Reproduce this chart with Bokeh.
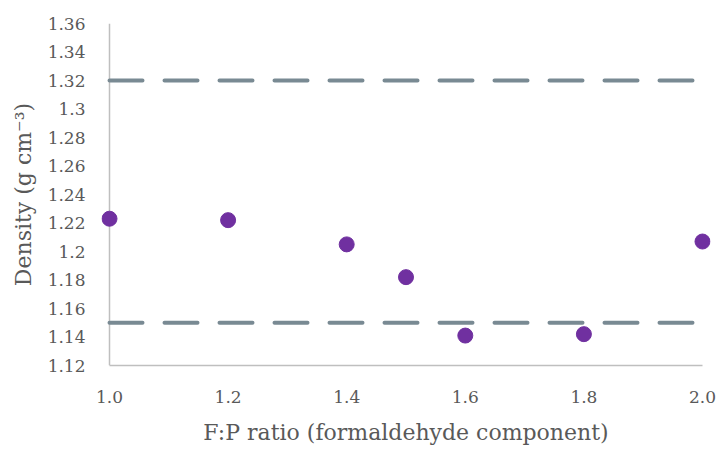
from bokeh.plotting import figure
from bokeh.models import Range1d, FixedTicker, Span
from bokeh.embed import file_html
from bokeh.resources import INLINE

# Data
fp_ratio = [1.0, 1.2, 1.4, 1.5, 1.6, 1.8, 2.0]
density = [1.223, 1.222, 1.205, 1.182, 1.141, 1.142, 1.207]
upper_limit = 1.32
lower_limit = 1.15
limit_x = [1.0, 2.0]

x_ticks = [1.0, 1.2, 1.4, 1.6, 1.8, 2.0]
x_tick_labels = ["1.0", "1.2", "1.4", "1.6", "1.8", "2.0"]
y_ticks = [1.12, 1.14, 1.16, 1.18, 1.2, 1.22, 1.24, 1.26, 1.28, 1.3, 1.32, 1.34, 1.36]
y_tick_labels = ["1.12", "1.14", "1.16", "1.18", "1.2", "1.22", "1.24", "1.26",
                 "1.28", "1.3", "1.32", "1.34", "1.36"]
x_min, x_max = 1.0, 2.0
y_min, y_max = 1.12, 1.36

FONT = "DejaVu Serif"
TXT = "#595959"
AXIS = "#bfbfbf"
pad = 0.0135  # small room so edge markers are not clipped

p = figure(width=717, height=450, output_backend="svg", toolbar_location=None,
           x_range=Range1d(x_min - pad, x_max + pad), y_range=Range1d(y_min, y_max),
           min_border_left=101, min_border_right=7, min_border_top=23, min_border_bottom=85)
p.outline_line_color = None
p.xgrid.grid_line_color = None
p.ygrid.grid_line_color = None

# vertical axis line at x = 1.0
p.add_layout(Span(location=x_min, dimension="height", line_color=AXIS, line_width=1.5,
                  level="underlay"))

p.line(limit_x, [upper_limit, upper_limit], line_color="#798a93", line_width=4,
       line_dash="33 22", line_cap="round")
p.line(limit_x, [lower_limit, lower_limit], line_color="#798a93", line_width=4,
       line_dash="33 22", line_cap="round")
p.scatter(fp_ratio, density, size=15, fill_color="#7030a0", line_color="#7030a0")

p.xaxis.ticker = FixedTicker(ticks=x_ticks)
p.xaxis.major_label_overrides = {t: l for t, l in zip(x_ticks, x_tick_labels)}
p.xaxis.bounds = (x_min, x_max)
p.yaxis.ticker = FixedTicker(ticks=y_ticks)
p.yaxis.major_label_overrides = {t: l for t, l in zip(y_ticks, y_tick_labels)}

for ax in (p.xaxis[0], p.yaxis[0]):
    ax.axis_line_color = AXIS
    ax.axis_line_width = 1.5
    ax.major_tick_line_color = None
    ax.minor_tick_line_color = None
    ax.major_tick_out = 0
    ax.major_tick_in = 0
    ax.major_label_text_font = FONT
    ax.major_label_text_color = TXT
    ax.major_label_text_font_size = "17px"
    ax.axis_label_text_font = FONT
    ax.axis_label_text_color = TXT
    ax.axis_label_text_font_size = "22px"
    ax.axis_label_text_font_style = "normal"

p.yaxis.axis_line_color = None
p.xaxis.axis_label = "F:P ratio (formaldehyde component)"
p.yaxis.axis_label = "Density (g cm⁻³)"
p.xaxis.major_label_standoff = 25
p.yaxis.major_label_standoff = 16
p.xaxis.axis_label_standoff = 14
p.yaxis.axis_label_standoff = 9

open("out.html", "w").write(file_html(p, INLINE))
